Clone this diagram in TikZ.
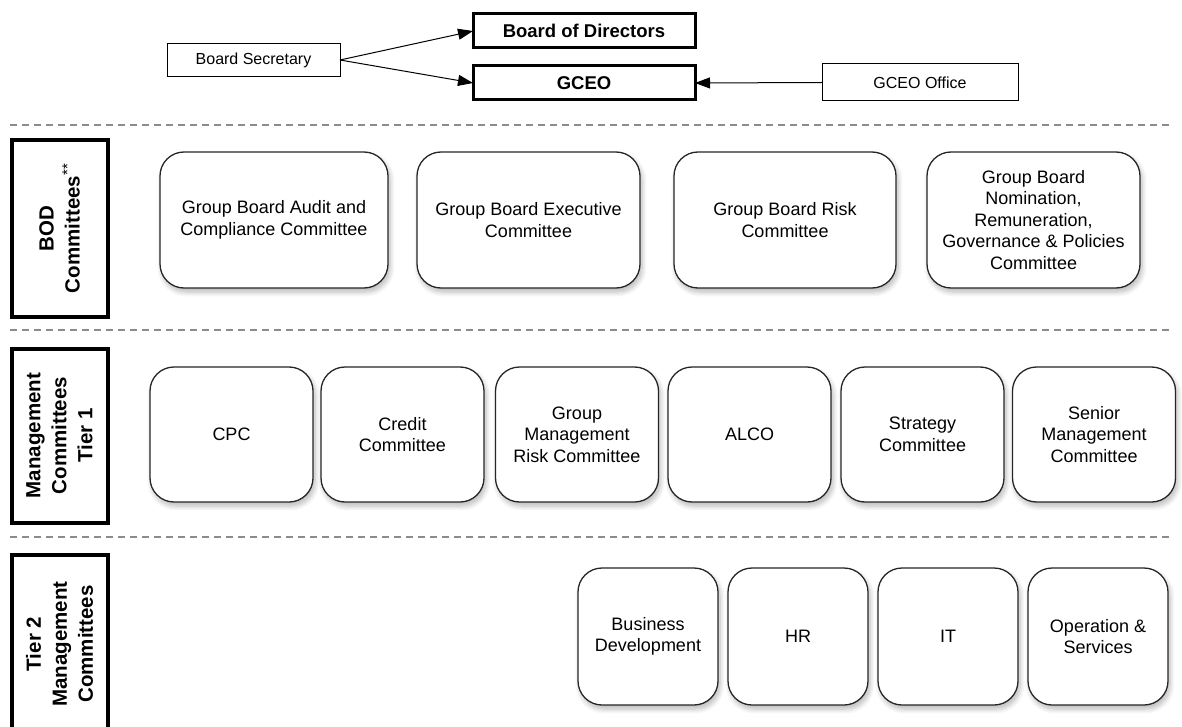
\documentclass[tikz,border=0pt]{standalone}
\usepackage{fontspec}
\setmainfont{Liberation Sans}
\usetikzlibrary{arrows.meta,shadows.blur}
\begin{document}
\begin{tikzpicture}[x=1pt,y=-1pt,
  cbox/.style={draw=black!85,line width=1.3pt,rounded corners=24pt,fill=white,
    blur shadow={shadow xshift=2pt,shadow yshift=-4pt,shadow blur steps=8,shadow blur radius=5pt,shadow opacity=28},
    align=center,inner sep=0pt,outer sep=0pt,font=\fontsize{18}{21.5}\selectfont},
  thinbox/.style={draw,line width=1pt,fill=white,align=center,inner sep=0pt,outer sep=0pt,
    font=\fontsize{16}{19}\selectfont},
  topbox/.style={draw,line width=3pt,fill=white,align=center,inner sep=0pt,outer sep=0pt,
    minimum width=222pt,minimum height=34pt,font=\fontsize{18.5}{22}\selectfont\bfseries},
  tierlabel/.style={draw,line width=4pt,rotate=90,align=center,inner sep=0pt,
    minimum height=96pt,font=\fontsize{20.5}{26}\selectfont\bfseries},
  sepline/.style={draw=black!45,line width=1.3pt,dash pattern=on 7pt off 5pt},
  arr/.style={line width=1pt,-{Triangle[length=15pt,width=11pt]}}
]
\useasboundingbox (0,0) rectangle (1182,727);

% top row
\node[thinbox,minimum width=173pt,minimum height=33pt] (bsec) at (253.5,60) {Board Secretary};
\node[topbox] (bod) at (584,31) {Board of Directors};
\node[topbox] (gceo) at (584,83) {GCEO};
\node[thinbox,minimum width=196pt,minimum height=37pt] (goff) at (920,82.5) {GCEO Office};
\draw[arr] (bsec.east) -- (bod.west);
\draw[arr] (bsec.east) -- (gceo.west);
\draw[arr] (goff.west) -- (gceo.east);

% separators
\draw[sepline] (10,125) -- (1172,125);
\draw[sepline] (10,330) -- (1172,330);
\draw[sepline] (10,537) -- (1172,537);

% tier labels
\node[tierlabel,minimum width=176pt] (lbod) at (59.5,228.5) {BOD\\Committees\raisebox{7pt}{\mdseries\fontsize{15}{15}\selectfont **}};
\node[tierlabel,minimum width=174pt] (lt1) at (59.5,435.5) {Management\\Committees\\Tier 1};
\node[tierlabel,minimum width=178pt] (lt2) at (59.5,644) {Tier 2\\Management\\Committees};

% BOD committees
\node[cbox,minimum width=228pt,minimum height=136pt] (b1) at (274,220) {Group Board Audit and\\Compliance Committee};
\node[cbox,minimum width=223pt,minimum height=136pt] (b2) at (528.5,220) {Group Board Executive\\Committee};
\node[cbox,minimum width=222pt,minimum height=136pt] (b3) at (785,220) {Group Board Risk\\Committee};
\node[cbox,minimum width=213pt,minimum height=136pt] (b4) at (1033.5,220) {Group Board\\Nomination,\\Remuneration,\\Governance \& Policies\\Committee};

% Tier 1
\node[cbox,minimum width=163pt,minimum height=135pt] (t1) at (231.5,434.5) {CPC};
\node[cbox,minimum width=163pt,minimum height=135pt] (t2) at (402.5,434.5) {Credit\\Committee};
\node[cbox,minimum width=163pt,minimum height=135pt] (t3) at (577,434.5) {Group\\Management\\Risk Committee};
\node[cbox,minimum width=163pt,minimum height=135pt] (t4) at (749.5,434.5) {ALCO};
\node[cbox,minimum width=163pt,minimum height=135pt] (t5) at (922.5,434.5) {Strategy\\Committee};
\node[cbox,minimum width=163pt,minimum height=135pt] (t6) at (1094,434.5) {Senior\\Management\\Committee};

% Tier 2
\node[cbox,minimum width=140pt,minimum height=137pt] (s1) at (648,636.5) {Business\\Development};
\node[cbox,minimum width=140pt,minimum height=137pt] (s2) at (798,636.5) {HR};
\node[cbox,minimum width=140pt,minimum height=137pt] (s3) at (948,636.5) {IT};
\node[cbox,minimum width=140pt,minimum height=137pt] (s4) at (1098,636.5) {Operation \&\\Services};
\end{tikzpicture}
\end{document}
